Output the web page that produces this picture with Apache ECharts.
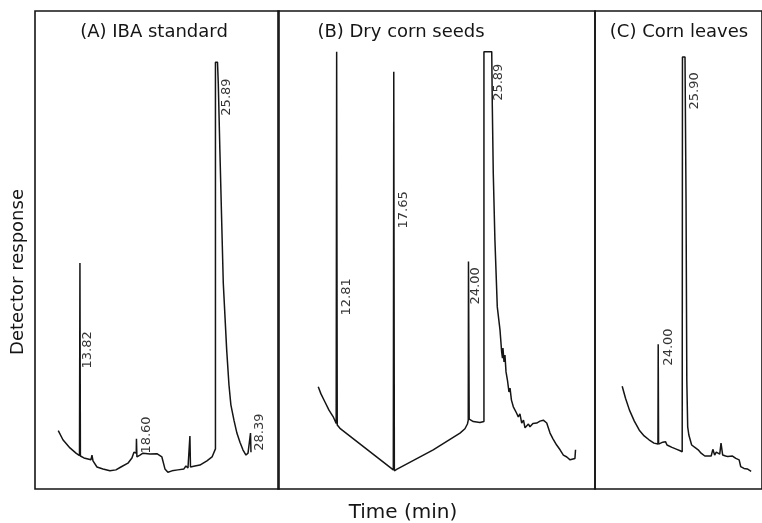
<!DOCTYPE html>
<html>
<head>
<meta charset="utf-8">
<script src="https://cdn.jsdelivr.net/npm/echarts@6/dist/echarts.min.js"></script>
<style>
html,body{margin:0;padding:0;background:#fff;}
#chart{width:762px;height:523px;}
</style>
</head>
<body>
<div id="chart"></div>
<script>
// Panel titles and axis titles
const panelTitles = ['(A) IBA standard', '(B) Dry corn seeds', '(C) Corn leaves'];
const xAxisTitle = 'Time (min)';
const yAxisTitle = 'Detector response';

// Traces: [time (min), detector response (% of panel height)]
const traceA = [
  [11.91,12.2],[12.32,10.3],[12.94,8.6],[13.47,7.5],[13.78,7.0],[13.82,47.3],[13.86,6.9],
  [14.17,6.5],[14.79,6.1],[14.88,7.1],[14.97,5.9],[15.32,4.6],[15.85,4.2],[16.46,3.8],
  [16.99,4.0],[17.43,4.6],[18.05,5.4],[18.40,6.5],[18.58,7.7],[18.78,7.5],[18.80,10.5],
  [18.84,6.7],[19.11,7.1],[19.37,7.5],[19.99,7.3],[20.60,7.4],[21.04,6.7],[21.31,4.2],
  [21.57,3.5],[21.93,3.8],[22.45,4.0],[22.98,4.2],[23.16,4.8],[23.34,4.4],[23.48,4.5],
  [23.51,11.1],[23.56,4.6],[23.95,4.8],[24.39,5.0],[25.01,5.9],[25.46,6.7],[25.76,8.4],
  [25.76,89.3],[25.94,89.3],[26.01,84.9],[26.15,70.9],[26.30,56.9],[26.45,43.1],
  [26.75,29.1],[26.95,21.8],[27.12,17.6],[27.39,14.4],[27.65,11.7],[27.92,9.8],
  [28.18,8.2],[28.45,7.1],[28.63,7.5],[28.76,7.1],[28.85,11.7],[28.89,7.7]
];
const traceB = [
  [11.25,21.4],[11.48,19.9],[11.82,18.2],[12.16,16.5],[12.52,15.1],[12.77,13.7],[12.81,91.5],
  [12.86,13.4],[13.09,12.7],[17.61,4.0],[17.65,87.3],[17.70,3.8],[17.89,4.1],[20.99,8.2],
  [23.26,11.7],[23.68,12.6],[23.89,13.6],[23.96,14.4],[23.98,47.6],[24.04,14.6],[24.39,14.1],
  [24.95,13.9],[25.29,14.1],[25.29,91.5],[25.95,91.5],[26.00,79.9],[26.08,66.1],[26.22,52.1],
  [26.42,38.1],[26.65,33.3],[26.79,28.7],[26.86,27.4],[26.90,29.5],[26.99,26.6],[27.07,28.0],
  [27.16,24.5],[27.28,22.8],[27.41,20.3],[27.50,21.1],[27.62,18.6],[27.78,17.2],[27.92,17.6],
  [28.05,15.9],[28.20,15.1],[28.34,15.7],[28.49,13.8],[28.64,14.4],[28.77,12.8],[28.91,12.8],
  [29.06,13.6],[29.19,13.0],[29.44,13.7],[29.76,13.8],[30.04,14.2],[30.32,14.4],[30.61,13.8],
  [30.89,11.7],[31.14,10.5],[31.45,9.2],[31.74,8.2],[32.02,7.1],[32.31,6.7],[32.59,6.1],
  [33.00,6.4],[33.05,8.2]
];
const traceC = [
  [21.18,21.5],[21.44,19.0],[21.75,16.5],[22.13,14.2],[22.52,12.3],[22.90,11.1],[23.28,10.3],
  [23.67,9.6],[23.98,9.4],[24.00,30.3],[24.03,9.4],[24.18,9.6],[24.36,9.8],[24.57,9.9],
  [24.69,9.2],[25.08,8.7],[25.46,8.3],[25.72,8.0],[25.88,7.8],[25.90,90.4],[26.10,90.4],
  [26.18,60.5],[26.24,22.8],[26.31,13.0],[26.40,11.3],[26.62,9.2],[26.82,8.8],[27.13,8.2],
  [27.36,7.5],[27.65,6.9],[27.90,6.9],[28.15,6.9],[28.28,8.3],[28.42,7.1],[28.55,7.7],
  [28.67,7.5],[28.82,7.3],[28.92,9.6],[29.05,7.1],[29.28,6.9],[29.44,6.8],[29.82,6.9],
  [30.08,6.4],[30.34,6.1],[30.46,4.7],[30.72,4.3],[30.98,4.2],[31.28,3.7]
];

// Peak retention-time labels: text, anchor time, anchor response level
const peakTextA = ['13.82','18.60','25.89','28.39'];
const labelTimeA = [14.48, 19.68, 26.77, 29.68];
const labelLevelA = [29.1, 11.3, 82.0, 11.9];
const peakTextB = ['12.81','17.65','24.00','25.89'];
const labelTimeB = [13.68, 18.51, 24.61, 26.56];
const labelLevelB = [40.2, 58.4, 42.5, 85.1];
const peakTextC = ['24.00','25.90'];
const labelTimeC = [24.82, 26.88];
const labelLevelC = [29.7, 83.3];

// Per-panel time windows (min)
const timeRangeA = [9.86, 31.36];
const timeRangeB = [7.84, 34.70];
const timeRangeC = [19.05, 32.13];

const INK = '#151515';
const FONT = '"DejaVu Sans", sans-serif';

const chart = echarts.init(document.getElementById('chart'), null, {renderer: 'canvas'});

const grids = [
  {left: 35, top: 11, width: 244, height: 478},
  {left: 278, top: 11, width: 317, height: 478},
  {left: 595, top: 11, width: 172, height: 478}
].map(g => Object.assign(g, {show: true, borderColor: INK, borderWidth: 1.6, backgroundColor: 'transparent'}));

const ranges = [timeRangeA, timeRangeB, timeRangeC];
const xAxes = ranges.map((r, i) => ({type: 'value', gridIndex: i, min: r[0], max: r[1], show: false}));
const yAxes = ranges.map((r, i) => ({type: 'value', gridIndex: i, min: 0, max: 100, show: false}));

const traces = [traceA, traceB, traceC];
const lineSeries = traces.map((d, i) => ({
  type: 'line', xAxisIndex: i, yAxisIndex: i, data: d, showSymbol: false, symbol: 'none',
  lineStyle: {color: INK, width: 1.5}, silent: true, animation: false
}));

function labelData(texts, times, levels) {
  return texts.map((t, k) => [times[k], levels[k], t]);
}
const labelSets = [
  labelData(peakTextA, labelTimeA, labelLevelA),
  labelData(peakTextB, labelTimeB, labelLevelB),
  labelData(peakTextC, labelTimeC, labelLevelC)
];
const labelSeries = labelSets.map((d, i) => ({
  type: 'scatter', xAxisIndex: i, yAxisIndex: i, data: d, symbolSize: 0, silent: true, animation: false,
  label: {
    show: true, position: 'inside', rotate: 90, align: 'center', verticalAlign: 'middle',
    formatter: p => p.data[2], fontSize: 13, color: '#000', fontFamily: FONT
  }
}));

const titlePos = [[154, 32], [401, 32], [679, 32]];
const graphics = panelTitles.map((t, i) => ({
  type: 'text', x: titlePos[i][0], y: titlePos[i][1], silent: true,
  style: {text: t, font: '18px ' + FONT, fill: INK, align: 'center', verticalAlign: 'middle'}
}));
graphics.push({
  type: 'text', x: 403, y: 513, silent: true,
  style: {text: xAxisTitle, font: '20px ' + FONT, fill: INK, align: 'center', verticalAlign: 'middle'}
});
graphics.push({
  type: 'text', x: 18, y: 272, rotation: Math.PI / 2, silent: true,
  style: {text: yAxisTitle, font: '18px ' + FONT, fill: INK, align: 'center', verticalAlign: 'middle'}
});

chart.setOption({
  animation: false,
  backgroundColor: '#fff',
  grid: grids,
  xAxis: xAxes,
  yAxis: yAxes,
  series: lineSeries.concat(labelSeries),
  graphic: graphics
});
</script>
</body>
</html>
